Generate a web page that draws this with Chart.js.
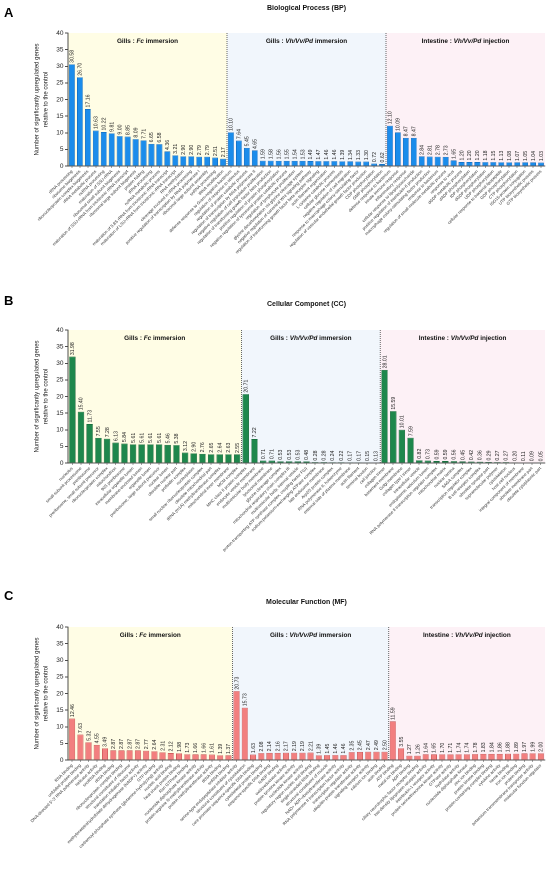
<!DOCTYPE html>
<html><head><meta charset="utf-8">
<script src="https://cdn.jsdelivr.net/npm/chart.js@4.4.1/dist/chart.umd.min.js"></script>
<style>
html,body{margin:0;padding:0;background:#fff;width:550px;height:876px;overflow:hidden;font-family:"Liberation Sans",Arial,sans-serif;}
.panel{position:absolute;left:0;width:550px;}
.letter{position:absolute;left:4px;font-weight:bold;font-size:13px;line-height:13px;color:#000;}
.ptitle{position:absolute;left:68px;width:477px;text-align:center;font-weight:bold;font-size:7px;line-height:8px;color:#111;}
</style></head><body>
<div class="panel" style="top:0;height:297px"><canvas id="cBP"></canvas></div>
<div class="panel" style="top:297px;height:297px"><canvas id="cCC"></canvas></div>
<div class="panel" style="top:594px;height:282px"><canvas id="cMF"></canvas></div>
<div class="letter" style="top:6px">A</div>
<div class="ptitle" style="top:4px">Biological Process (BP)</div>
<div class="letter" style="top:294px">B</div>
<div class="ptitle" style="top:300px">Cellular Componet (CC)</div>
<div class="letter" style="top:589px">C</div>
<div class="ptitle" style="top:598px">Molecular Function (MF)</div>
<script>
// ---------- DATA ----------
const groupNames = [
  [['Gills : ',false],['Fc',true],[' immersion',false]],
  [['Gills : ',false],['Vh/Vv/Pd',true],[' immersion',false]],
  [['Intestine : ',false],['Vh/Vv/Pd',true],[' injection',false]]
];
const yTitleLines = ['Number of significantly upregulated genes','relative to the control'];
const yTicks = [0,5,10,15,20,25,30,35,40];

const bpGroupSizes = [20,20,20];
const bpLabels = [
 'rRNA processing','ribosome biogenesis','ribonucleoprotein complex biogenesis','rRNA metabolic process','ncRNA processing',
 'maturation of SSU-rRNA','ribosomal small subunit biogenesis','maturation of SSU-rRNA from tricistronic rRNA transcript',
 'ribosomal large subunit biogenesis','protein folding','tRNA processing','ncRNA metabolic process',
 'maturation of 5.8S rRNA from tricistronic rRNA transcript','maturation of LSU-rRNA from tricistronic rRNA transcript',
 'RNA methylation','cleavage involved in rRNA processing','positive regulation of transcription by RNA polymerase I','ribosomal large subunit assembly','snRNA processing','tRNA modification',
 'defense response to Gram-negative bacterium','regulation of response to stimulus','regulation of protein catabolic process','regulation of transcription by RNA polymerase II',
 'negative regulation of cell population proliferation','regulation of transforming growth factor beta production','positive regulation of protein phosphorylation',
 'negative regulation of lysosomal protein catabolic process','regulation of lymphocyte proliferation','glycine decarboxylation via glycine cleavage system',
 'negative regulation of canonical Wnt signaling pathway','regulation of transforming growth factor beta receptor signaling','actin filament organization',
 'L-cysteine catabolic process','cellular glucose homeostasis','negative regulation of cell migration','response to macrophage colony-stimulating factor',
 'regulation of vascular endothelial growth factor production','CDP phosphorylation','GMP phosphorylation',
 'defense response to bacterium','innate immune response','inflammatory response','cellular response to lipopolysaccharide','positive regulation of interleukin-6 production',
 'macrophage colony-stimulating factor production','response to bacterium','regulation of small molecule metabolic process','response to virus','dGDP metabolic process',
 'dADP phosphorylation','IDP phosphorylation','dGDP phosphorylation','UDP phosphorylation','cellular response to bacterial lipopeptide','GDP phosphorylation',
 'CTP phosphorylation','ISG15-protein conjugation','UTP biosynthetic process','GTP biosynthetic process'
];
const bpValues = [30.58,26.70,17.16,10.63,10.22,9.81,9.00,8.85,8.09,7.71,6.65,6.58,4.36,3.21,2.90,2.90,2.79,2.79,2.51,2.17,
 10.10,7.64,5.45,4.65,1.59,1.58,1.56,1.55,1.54,1.53,1.49,1.47,1.46,1.46,1.39,1.34,1.33,1.30,0.72,0.62,
 12.10,10.09,8.47,8.47,2.84,2.81,2.78,2.73,1.65,1.20,1.20,1.20,1.18,1.15,1.13,1.08,1.07,1.05,1.04,1.03];

const ccGroupSizes = [20,16,19];
const ccLabels = [
 'nucleolus','small-subunit processome','preribosome','preribosome, small subunit precursor','ribonucleoprotein complex','mitochondrion','90S preribosome',
 'intracellular organelle lumen','membrane-enclosed lumen','organelle lumen','preribosome, large subunit precursor','nuclear lumen','obsolete nuclear part',
 'prefoldin complex','nucleoplasm','small nuclear ribonucleoprotein complex','obsolete mitochondrial part','tRNA (m1A) methyltransferase complex',
 'mitochondrial inner membrane','MCM complex',
 'MHC class II protein complex','endocytic vesicle membrane','multivesicular body membrane','lysosomal membrane','glycine cleavage complex',
 'mitochondrial respiratory chain complex III','multivesicular body, internal vesicle','proton-transporting ATP synthase complex, coupling factor F(o)',
 'sodium:potassium-exchanging ATPase complex','late endosome membrane','Arp2/3 protein complex','RNA polymerase II, holoenzyme',
 'external side of plasma membrane','actin filament','terminal bouton','cell junction',
 'collagen trimer','basement membrane','Golgi membrane','collagen type I trimer','intracellular vesicle','endoplasmic reticulum lumen',
 'RNA polymerase II transcription regulator complex','mitochondrial matrix','nuclear lamina','SAGA complex','transcription regulator complex',
 'B cell receptor complex','obsolete synapse part','supramolecular polymer','cytoskeleton','host cell nucleus','integral component of membrane',
 'obsolete membrane part','obsolete cytoplasmic part'
];
const ccValues = [31.98,15.40,11.73,7.55,7.28,6.13,5.84,5.61,5.61,5.61,5.61,5.46,5.38,3.12,2.90,2.76,2.65,2.64,2.63,2.55,
 20.71,7.22,0.71,0.71,0.53,0.53,0.53,0.48,0.28,0.28,0.24,0.22,0.17,0.17,0.15,0.13,
 28.01,15.59,10.01,7.59,0.82,0.73,0.59,0.59,0.56,0.45,0.42,0.36,0.29,0.27,0.27,0.20,0.11,0.09,0.05];

const mfGroupSizes = [20,19,19];
const mfLabels = [
 'RNA binding','unfolded protein binding','DNA-directed 5\'-3\' RNA polymerase activity','helicase activity','snoRNA binding','rRNA binding',
 'ribonucleoprotein complex binding','structural constituent of ribosome','translation initiation factor activity',
 'methylenetetrahydrofolate dehydrogenase (NADP+) activity','GTP binding','carbamoyl-phosphate synthase (glutamine-hydrolyzing) activity',
 'nucleic acid binding','heat shock protein binding','Ran GTPase binding','nucleoside diphosphate kinase activity',
 'protein-arginine N-methyltransferase activity','protein methyltransferase activity','tRNA binding','snRNA binding',
 'serine-type endopeptidase inhibitor activity','structural constituent of cytoskeleton','core promoter sequence-specific DNA binding',
 'cytoskeletal protein binding','sequence-specific DNA binding','NADP binding','oxidoreductase activity','protein tyrosine kinase activity',
 'nucleotide kinase activity','regulatory region nucleic acid binding','single-stranded RNA binding','structural constituent of muscle',
 'NAD+ ADP-ribosyltransferase activity','RNA polymerase II transcription factor activity','transcription regulator activity',
 'ubiquitin-protein transferase activity','signaling receptor activity','calcium ion binding','actin binding',
 'ATP binding','metal ion binding','ADP binding','ciliary neurotrophic factor receptor binding','low-density lipoprotein receptor activity',
 'interleukin-1 receptor activity','protein serine/threonine kinase activity','GTPase activity','hydrolase activity','nucleoside diphosphate kinase',
 'zinc ion binding','protein kinase binding','protein-containing complex binding','cytokine activity','heme binding','iron ion binding',
 'protein binding','potassium transmembrane transporter activity','molecular function regulator'
];
const mfValues = [12.46,7.63,5.32,4.55,3.49,2.87,2.87,2.87,2.87,2.77,2.64,2.31,2.12,1.98,1.73,1.66,1.66,1.61,1.39,1.37,
 20.73,15.73,1.63,2.08,2.14,2.16,2.17,2.19,2.19,2.21,1.39,1.45,1.46,1.46,2.35,2.45,2.47,2.49,2.50,
 11.59,3.55,1.27,1.26,1.64,1.65,1.70,1.71,1.74,1.74,1.78,1.83,1.84,1.86,1.88,1.89,1.97,1.99,2.00];

// ---------- STYLE ----------
const FONT = '"Liberation Sans", Arial, sans-serif';
Chart.defaults.font.family = FONT;
Chart.defaults.color = '#222';
const groupBg = ['#FFFDE5','#F1F6FC','#FDF1F6'];
const PLOT_TOP = 33, PLOT_BOTTOM = 166, PLOT_LEFT = 68, PLOT_RIGHT = 545;

function groupBounds(chart, sizes) {
  const {chartArea: ca, scales: {x}} = chart;
  const out = [];
  let start = 0;
  sizes.forEach((n, i) => {
    const end = start + n;
    const x0 = i === 0 ? ca.left : (x.getPixelForValue(start - 1) + x.getPixelForValue(start)) / 2;
    const x1 = i === sizes.length - 1 ? ca.right : (x.getPixelForValue(end - 1) + x.getPixelForValue(end)) / 2;
    out.push([x0, x1]);
    start = end;
  });
  return out;
}

const deco = {
  id: 'deco',
  beforeDraw(chart, args, o) {
    const {ctx, chartArea: ca} = chart;
    ctx.save();
    groupBounds(chart, o.sizes).forEach(([x0, x1], i) => {
      ctx.fillStyle = groupBg[i];
      ctx.fillRect(x0, ca.top, x1 - x0, ca.bottom - ca.top);
    });
    ctx.restore();
  },
  afterDatasetsDraw(chart, args, o) {
    const {ctx} = chart;
    const meta = chart.getDatasetMeta(0);
    const vals = chart.data.datasets[0].data;
    ctx.save();
    ctx.fillStyle = '#222';
    ctx.font = '5.2px ' + FONT;
    ctx.textAlign = 'left';
    ctx.textBaseline = 'middle';
    meta.data.forEach((bar, i) => {
      ctx.save();
      ctx.translate(bar.x, bar.y - 1.5);
      ctx.rotate(-Math.PI / 2);
      ctx.fillText(vals[i].toFixed(2), 0, 0.3);
      ctx.restore();
    });
    ctx.restore();
  },
  afterDraw(chart, args, o) {
    const {ctx, chartArea: ca} = chart;
    ctx.save();
    groupBounds(chart, o.sizes).forEach(([x0, x1], i) => {
      if (i > 0) {
        ctx.strokeStyle = '#444';
        ctx.lineWidth = 0.8;
        ctx.setLineDash([1, 1]);
        ctx.beginPath();
        ctx.moveTo(x0, ca.top);
        ctx.lineTo(x0, ca.bottom);
        ctx.stroke();
        ctx.setLineDash([]);
      }
      const segs = groupNames[i];
      const fs = 6.4;
      let total = 0;
      segs.forEach(([t, it]) => { ctx.font = (it ? 'italic ' : '') + 'bold ' + fs + 'px ' + FONT; total += ctx.measureText(t).width; });
      let cx = (x0 + x1) / 2 - total / 2;
      ctx.fillStyle = '#111';
      ctx.textBaseline = 'middle';
      ctx.textAlign = 'left';
      segs.forEach(([t, it]) => {
        ctx.font = (it ? 'italic ' : '') + 'bold ' + fs + 'px ' + FONT;
        ctx.fillText(t, cx, ca.top + 8);
        cx += ctx.measureText(t).width;
      });
    });
    const cy = (ca.top + ca.bottom) / 2;
    ctx.fillStyle = '#222';
    ctx.font = '6px ' + FONT;
    ctx.textAlign = 'center';
    ctx.textBaseline = 'middle';
    [37, 46].forEach((xx, k) => {
      ctx.save();
      ctx.translate(xx, cy);
      ctx.rotate(-Math.PI / 2);
      ctx.fillText(yTitleLines[k], 0, 0);
      ctx.restore();
    });
    ctx.restore();
  }
};

function makeChart(id, labels, values, sizes, fill, border, height) {
  return new Chart(document.getElementById(id), {
    type: 'bar',
    data: {
      labels: labels,
      datasets: [{
        data: values,
        backgroundColor: fill,
        borderColor: border,
        borderWidth: 0.5,
        categoryPercentage: 0.8,
        barPercentage: 0.92
      }]
    },
    options: {
      responsive: true,
      maintainAspectRatio: false,
      animation: false,
      devicePixelRatio: 2,
      layout: { padding: { top: PLOT_TOP, left: 0, right: 550 - PLOT_RIGHT, bottom: 0 } },
      plugins: { legend: { display: false }, tooltip: { enabled: false }, deco: { sizes: sizes } },
      scales: {
        x: {
          offset: true,
          afterFit: s => { s.height = height - PLOT_BOTTOM; },
          grid: { display: true, drawOnChartArea: false, drawTicks: true, tickLength: 2, offset: false, color: '#444', lineWidth: 0.5 },
          border: { display: true, color: '#222', width: 0.8 },
          ticks: { autoSkip: false, maxRotation: 45, minRotation: 45, padding: 1, color: '#333', font: { size: 4.2 } }
        },
        y: {
          min: 0, max: 40,
          afterFit: s => { s.width = PLOT_LEFT; },
          afterBuildTicks: s => { s.ticks = yTicks.map(v => ({ value: v })); },
          grid: { display: true, drawOnChartArea: false, drawTicks: true, tickLength: 3, color: '#222', lineWidth: 0.8 },
          border: { display: true, color: '#222', width: 0.8 },
          ticks: { padding: 1.5, color: '#222', font: { size: 6.5 } }
        }
      }
    },
    plugins: [deco]
  });
}

makeChart('cBP', bpLabels, bpValues, bpGroupSizes, '#1B8CEB', '#0B5FB0', 297);
makeChart('cCC', ccLabels, ccValues, ccGroupSizes, '#1E874C', '#125C32', 297);
makeChart('cMF', mfLabels, mfValues, mfGroupSizes, '#F27F7F', '#B83C3C', 282);
</script>
</body></html>
